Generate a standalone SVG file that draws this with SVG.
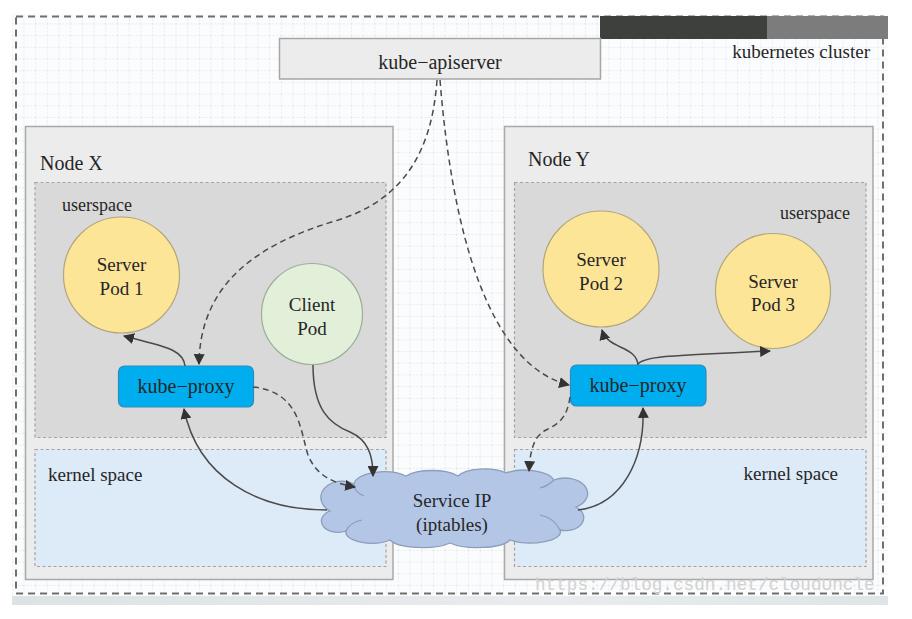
<svg xmlns="http://www.w3.org/2000/svg" width="912" height="619" viewBox="0 0 912 619">
<defs>
  <pattern id="grid" width="11.7" height="11.7" patternUnits="userSpaceOnUse">
    <path d="M0 0.5 H11.7 M0.5 0 V11.7" fill="none" stroke="#e4e9ed" stroke-width="0.8" stroke-dasharray="2,1.5"/>
  </pattern>
  <linearGradient id="strip" x1="0" y1="0" x2="1" y2="0">
    <stop offset="0" stop-color="#dde2e4"/>
    <stop offset="0.6" stop-color="#e8ecee"/>
    <stop offset="1" stop-color="#dfe5e7"/>
  </linearGradient>
  <marker id="arr" viewBox="0 0 10 10" refX="9" refY="5" markerWidth="11" markerHeight="11" markerUnits="userSpaceOnUse" orient="auto">
    <path d="M0 0 L10 5 L0 10 Z" fill="#333"/>
  </marker>
</defs>
<style>
  .t { font-family: "Liberation Serif", "Times New Roman", serif; fill: #262626; }
  .node { fill: #ececec; stroke: #a9a9a9; stroke-width: 1.5; }
  .user { fill: #d9d9d9; stroke: #a3a3a3; stroke-width: 1.2; stroke-dasharray: 3,2.5; }
  .kern { fill: #ddeaf7; stroke: #a3a3a3; stroke-width: 1.2; stroke-dasharray: 3,2.5; }
  .spod { fill: #fde598; stroke: #b3a67a; stroke-width: 1.2; }
  .cpod { fill: #e2efd9; stroke: #9fae95; stroke-width: 1.2; }
  .proxy { fill: #00adee; stroke: #2a8dbd; stroke-width: 1.2; }
  .c { fill: none; stroke: #4a4a4a; stroke-width: 1.5; marker-end: url(#arr); }
  .d { stroke-dasharray: 6,4; }
</style>

<rect width="912" height="619" fill="#ffffff"/>
<g id="background">
  <rect x="12" y="14" width="876" height="582" fill="#fbfcfd"/>
  <rect x="12" y="14" width="876" height="582" fill="url(#grid)"/>
  <rect x="12" y="596" width="876" height="9" fill="url(#strip)"/>
</g>

<g id="cluster">
  <rect x="16" y="16.5" width="867" height="577" fill="none" stroke="#6f6f6f" stroke-width="2" stroke-dasharray="7,5"/>
  <rect x="600" y="16" width="167" height="23" fill="#3e403e"/>
  <rect x="767" y="16" width="121" height="23" fill="#7b7c7b"/>
  <text class="t" x="870" y="58" font-size="19" text-anchor="end">kubernetes cluster</text>
</g>

<g id="apiserver">
  <rect x="279.5" y="38.5" width="321" height="40.5" fill="#ececec" stroke="#a6a6a6" stroke-width="1.5"/>
  <text class="t" x="440" y="69" font-size="20" text-anchor="middle">kube−apiserver</text>
</g>

<g id="nodeX">
  <rect class="node" x="25.5" y="126.5" width="367.5" height="453"/>
  <text class="t" x="40" y="170" font-size="20">Node X</text>
  <rect class="user" x="35" y="182.5" width="351" height="255"/>
  <text class="t" x="62" y="211" font-size="18">userspace</text>
  <rect class="kern" x="35" y="449.5" width="351" height="117"/>
  <text class="t" x="48" y="481" font-size="19">kernel space</text>
</g>

<g id="nodeY">
  <rect class="node" x="504.5" y="126.5" width="368.5" height="453"/>
  <text class="t" x="528" y="166" font-size="20">Node Y</text>
  <rect class="user" x="514.5" y="182.5" width="351.5" height="255"/>
  <text class="t" x="850" y="219" font-size="18" text-anchor="end">userspace</text>
  <rect class="kern" x="514.5" y="449.5" width="351.5" height="117"/>
  <text class="t" x="838" y="480" font-size="19" text-anchor="end">kernel space</text>
</g>

<g id="serverPod1">
  <circle class="spod" cx="121.5" cy="275" r="58"/>
  <text class="t" x="121.5" y="271" font-size="19" text-anchor="middle">Server</text>
  <text class="t" x="121.5" y="295" font-size="19" text-anchor="middle">Pod 1</text>
</g>

<g id="clientPod">
  <circle class="cpod" cx="312" cy="314" r="50.5"/>
  <text class="t" x="312" y="311" font-size="19" text-anchor="middle">Client</text>
  <text class="t" x="312" y="335" font-size="19" text-anchor="middle">Pod</text>
</g>

<g id="serverPod2">
  <circle class="spod" cx="601" cy="269" r="58"/>
  <text class="t" x="601" y="266" font-size="19" text-anchor="middle">Server</text>
  <text class="t" x="601" y="290" font-size="19" text-anchor="middle">Pod 2</text>
</g>

<g id="serverPod3">
  <circle class="spod" cx="773" cy="291" r="57.5"/>
  <text class="t" x="773" y="288" font-size="19" text-anchor="middle">Server</text>
  <text class="t" x="773" y="311" font-size="19" text-anchor="middle">Pod 3</text>
</g>

<g id="kubeProxyX">
  <rect class="proxy" x="118.5" y="366" width="135" height="41" rx="6"/>
  <text class="t" x="186" y="393" font-size="20" text-anchor="middle">kube−proxy</text>
</g>

<g id="kubeProxyY">
  <rect class="proxy" x="570.5" y="365" width="135.5" height="41" rx="6"/>
  <text class="t" x="638" y="392" font-size="20" text-anchor="middle">kube−proxy</text>
</g>

<g id="serviceIP">
  <path d="M330 511 A18 14 0 0 1 354 484 A30 13 0 0 1 406 476 A30 11 0 0 1 458 476 A28 11 0 0 1 506 473 A30 13 0 0 1 554 480 A22 15 0 0 1 576 507 A18 13 0 0 1 560 530 A30 11 0 0 1 510 540 A34 11 0 0 1 450 543 A34 11 0 0 1 390 540 A26 11 0 0 1 346 531 A16 11 0 0 1 330 511 Z" fill="#b4c6e6" stroke="#8c9dba" stroke-width="1.3"/>
  <path d="M346 531 Q350 522 362 520 M354 484 Q354 492 364 496 M554 480 Q548 486 540 488 M560 530 Q554 518 540 515" fill="none" stroke="#8c9dba" stroke-width="1.2"/>
  <text class="t" x="452" y="507" font-size="19" text-anchor="middle">Service IP</text>
  <text class="t" x="452" y="531" font-size="19" text-anchor="middle">(iptables)</text>
</g>

<g id="connectors">
  <path class="c d" d="M437 80 C432 150 405 200 335 221 C255 245 200 285 199 364"/>
  <path class="c d" d="M440 80 C452 230 488 365 569 385"/>
  <path class="c" d="M185 366 C183 348 160 346 124 336"/>
  <path class="c d" d="M253 387 C300 392 300 430 308 455 C316 475 332 483 355 487"/>
  <path class="c" d="M313 365 C313 410 330 424 350 432 C368 440 373 455 373 476"/>
  <path class="c" d="M327 510 C258 510 198 478 184 409"/>
  <path class="c d" d="M570 397 C567 420 556 425 546 430 C532 437 530 455 529 471"/>
  <path class="c" d="M578 510 C622 505 645 460 643 408"/>
  <path class="c" d="M638 365 C636 345 608 350 602 330"/>
  <path class="c" d="M638 364 C645 355 690 355 770 351"/>
</g>

<text x="535" y="590" font-family="Liberation Mono, Courier New, monospace" font-size="17.7" fill="#d2d2d2">https://blog.csdn.net/cloudUncle</text>
</svg>
